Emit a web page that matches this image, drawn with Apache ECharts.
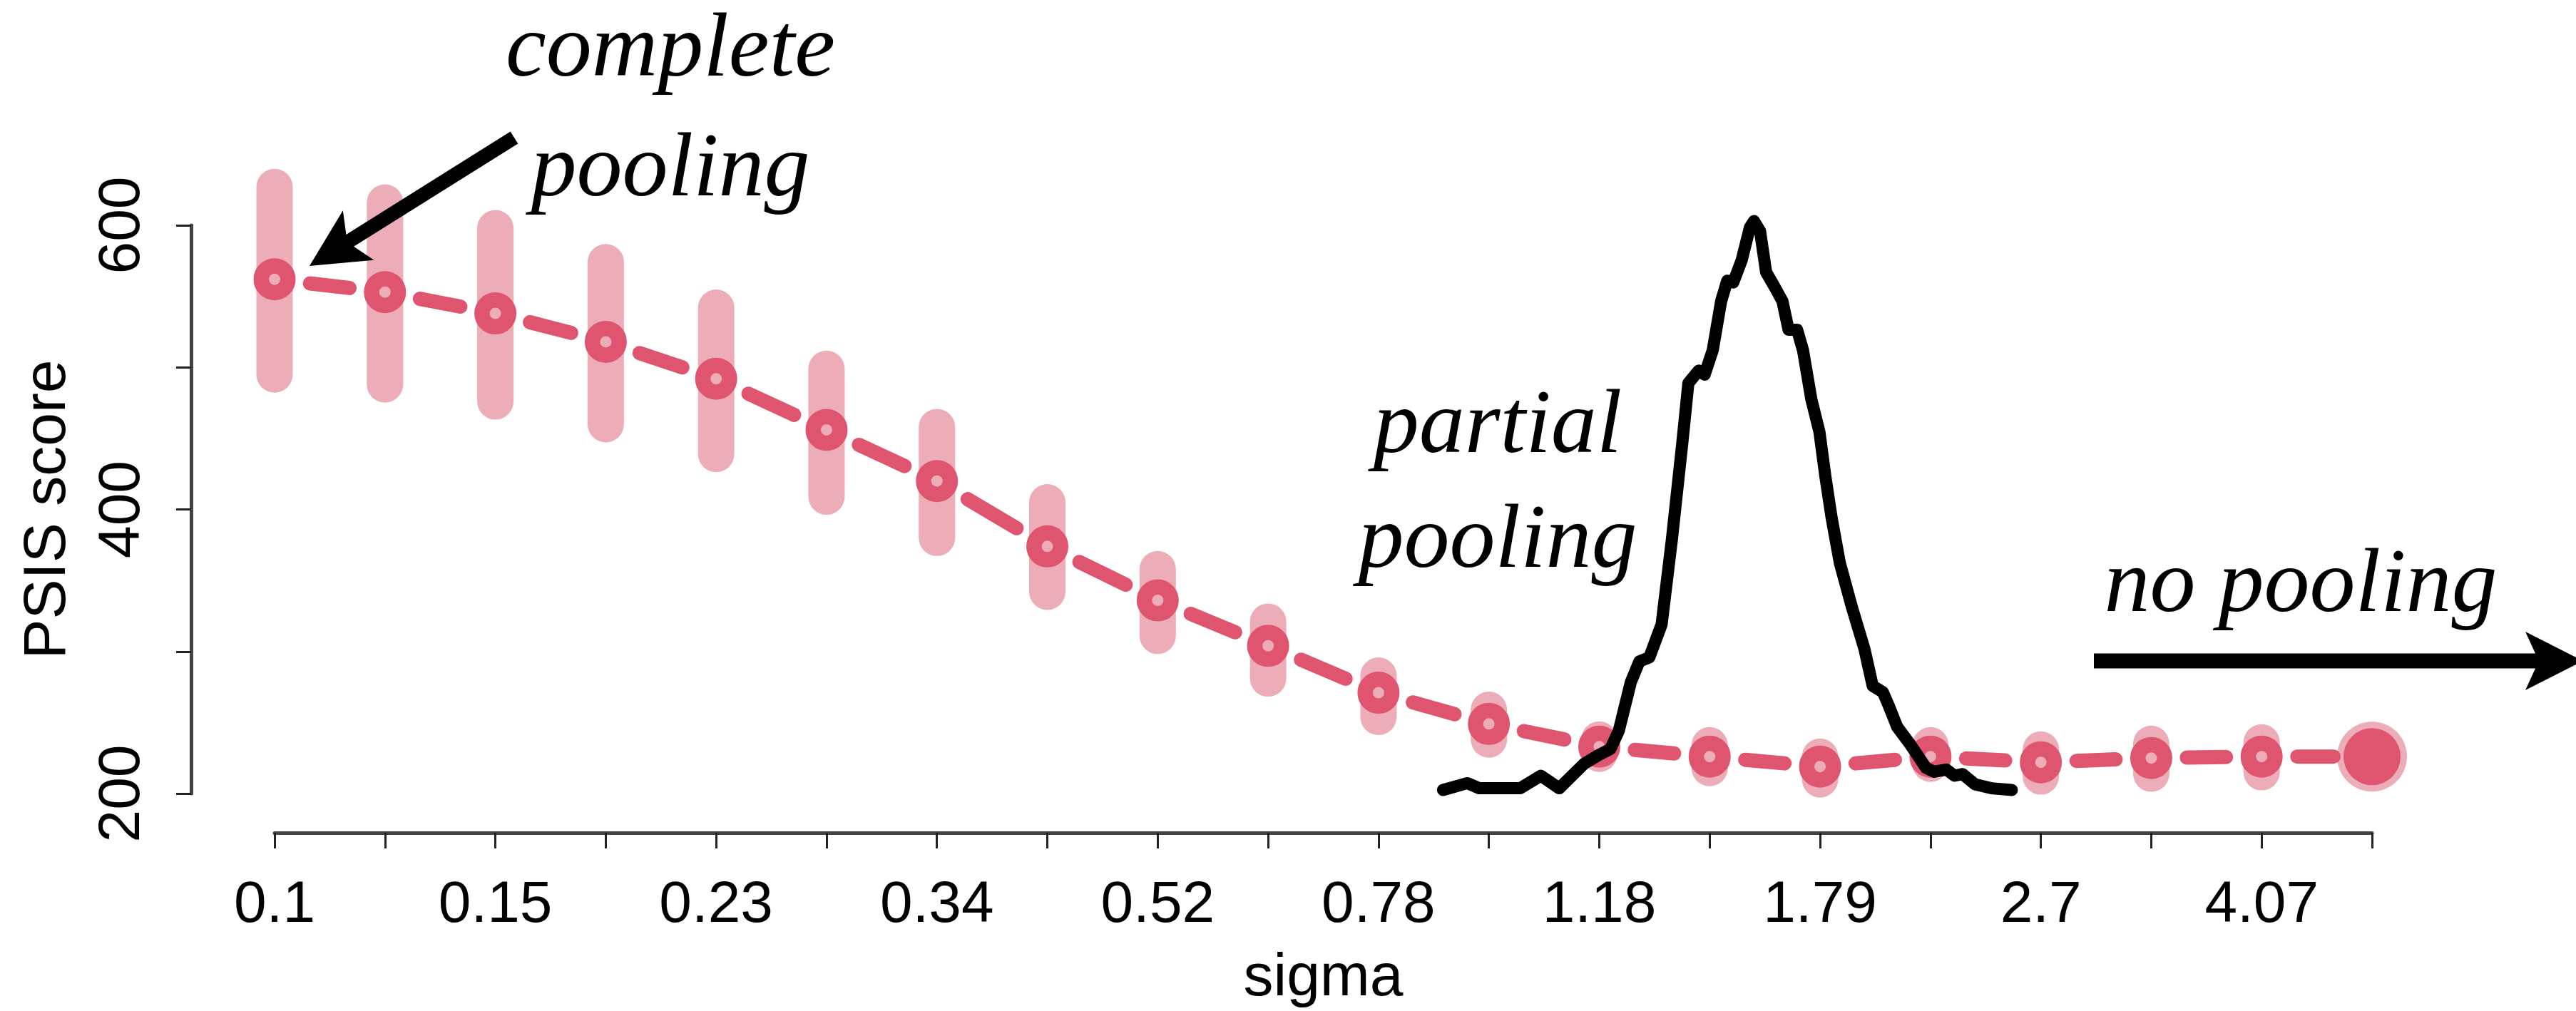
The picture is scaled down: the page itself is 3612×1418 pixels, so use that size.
<!DOCTYPE html>
<html>
<head>
<meta charset="utf-8">
<script src="https://cdn.jsdelivr.net/npm/echarts@6/dist/echarts.min.js"></script>
<style>
  html, body { margin: 0; padding: 0; background: #ffffff; }
  #chart { width: 3612px; height: 1418px; }
</style>
</head>
<body>
<div id="chart"></div>
<script>
// ---------- data ----------
const sigmaLabels = ['0.1','0.12','0.15','0.19','0.23','0.28','0.34','0.42','0.52','0.64',
                     '0.78','0.96','1.18','1.45','1.79','2.2','2.7','3.31','4.07','5'];
const psisScore = [562, 553, 538, 518, 492, 456, 420, 374, 336, 304,
                   271, 249, 233, 226, 219, 226, 222, 225, 226, 226];
const psisLower = [495, 488, 476, 460, 439, 409, 380, 342, 311, 281,
                   254, 238, 228, 218, 210, 221, 212, 214, 215, 221];
const psisUpper = [627, 616, 598, 574, 542, 499, 458, 405, 358, 321,
                   283, 259, 238, 234, 226, 234, 231, 235, 236, 231];
const yTicks = [200, 300, 400, 500, 600];
const yTickLabels = ['200', '400', '600'];

// posterior density of sigma (relative height, peak = 1)
const densitySigma = [0.884,0.925,0.946,1.021,1.061,1.098,1.150,1.181,1.208,1.227,
                      1.255,1.275,1.299,1.329,1.355,1.381,1.397,1.424,1.440,1.462,
                      1.485,1.502,1.519,1.543,1.567,1.579,1.597,1.615,1.640,1.665,
                      1.684,1.711,1.730,1.757,1.784,1.804,1.825,1.853,1.896,1.940,
                      1.970,2.008,2.031,2.062,2.110,2.142,2.176,2.209,2.260,2.295,
                      2.330,2.384,2.458,2.554];
const densityValue = [0.000,0.012,0.003,0.003,0.025,0.003,0.046,0.061,0.072,0.104,
                      0.190,0.226,0.233,0.291,0.442,0.608,0.715,0.737,0.730,0.773,
                      0.859,0.895,0.892,0.931,0.989,1.000,0.982,0.910,0.885,0.859,
                      0.809,0.809,0.773,0.687,0.629,0.550,0.478,0.399,0.320,0.248,
                      0.183,0.172,0.147,0.111,0.082,0.061,0.039,0.032,0.036,0.025,
                      0.028,0.010,0.003,0.000];

// ---------- styling ----------
const RING = '#DF5570';
const BAR = '#EDADB8';
const AXIS_FONT = 'Liberation Sans';
const ANNOT_FONT = 'Liberation Serif';
const last = psisScore.length - 1;

const chart = echarts.init(document.getElementById('chart'), null, { renderer: 'canvas' });

const barData = psisLower.map((lo, i) => [i, lo, psisUpper[i], psisScore[i]]);
const segData = psisScore.slice(0, -1).map((v, i) => [i, v, psisScore[i + 1]]);
const ringData = psisScore.map((v, i) => i === last
  ? { value: [i, v], symbolSize: 80, itemStyle: { color: RING, borderWidth: 0 } }
  : [i, v]);
const densityData = densitySigma.map((s, i) => [Math.log(s), densityValue[i]]);

function arrowPoly(x1, y1, x2, y2, shaftW, headLen, headHalf, notchLen) {
  const dx = x2 - x1, dy = y2 - y1, L = Math.hypot(dx, dy);
  const ux = dx / L, uy = dy / L, nx = -uy, ny = ux;
  const nX = x2 - ux * notchLen, nY = y2 - uy * notchLen;
  const bX = x2 - ux * headLen, bY = y2 - uy * headLen;
  const h = shaftW / 2;
  return [
    [x1 + nx * h, y1 + ny * h],
    [nX + nx * h, nY + ny * h],
    [bX + nx * headHalf, bY + ny * headHalf],
    [x2, y2],
    [bX - nx * headHalf, bY - ny * headHalf],
    [nX - nx * h, nY - ny * h],
    [x1 - nx * h, y1 - ny * h]
  ];
}

function annot(text, x, y) {
  return {
    type: 'text', x: x, y: y, z: 100,
    style: {
      text: text, fill: '#000', fontFamily: ANNOT_FONT, fontStyle: 'italic',
      fontSize: 128, align: 'center', verticalAlign: 'middle'
    }
  };
}

const option = {
  backgroundColor: '#ffffff',
  animation: false,
  grid: { left: 385, right: 286, top: 316, bottom: 305, outerBoundsMode: 'none', containLabel: false },
  xAxis: [{
    type: 'category',
    data: sigmaLabels,
    boundaryGap: false,
    offset: 55,
    name: 'sigma',
    nameLocation: 'middle',
    nameGap: 163,
    nameTextStyle: { fontFamily: AXIS_FONT, fontSize: 84, color: '#000' },
    axisLine: { onZero: false, lineStyle: { color: '#444', width: 5 } },
    axisTick: { interval: 0, length: 22, lineStyle: { color: '#222', width: 3 } },
    axisLabel: { interval: 1, margin: 61, fontFamily: AXIS_FONT, fontSize: 82, color: '#000' },
    splitLine: { show: false }
  }, {
    type: 'value', show: false,
    min: Math.log(0.1), max: Math.log(5),
    axisLine: { onZero: false }
  }],
  yAxis: [{
    type: 'value',
    min: yTicks[0], max: yTicks[yTicks.length - 1], interval: 100,
    offset: 117,
    name: 'PSIS score',
    nameLocation: 'middle',
    nameGap: 158,
    nameTextStyle: { fontFamily: AXIS_FONT, fontSize: 84, color: '#000' },
    axisLine: { show: true, onZero: false, lineStyle: { color: '#444', width: 5 } },
    axisTick: { show: true, length: 21, lineStyle: { color: '#222', width: 3 } },
    axisLabel: {
      rotate: 90, margin: 55, fontFamily: AXIS_FONT, fontSize: 82, color: '#000',
      formatter: v => yTickLabels.indexOf(String(v)) >= 0 ? String(v) : ''
    },
    splitLine: { show: false }
  }, {
    type: 'value', show: false,
    min: -0.006266, max: 0.99248,
    axisLine: { onZero: false }
  }],
  series: [
    {
      name: 'interval', type: 'custom', clip: false, z: 1,
      xAxisIndex: 0, yAxisIndex: 0,
      data: barData,
      encode: { x: 0, y: [1, 2] },
      renderItem: function (params, api) {
        const i = api.value(0);
        if (i === last) {
          const c = api.coord([i, api.value(3)]);
          return { type: 'circle', shape: { cx: c[0], cy: c[1], r: 49 }, style: { fill: BAR } };
        }
        const lo = api.coord([i, api.value(1)]);
        const hi = api.coord([i, api.value(2)]);
        return {
          type: 'line',
          shape: { x1: hi[0], y1: hi[1], x2: lo[0], y2: lo[1] },
          style: { stroke: BAR, lineWidth: 51, lineCap: 'round' }
        };
      }
    },
    {
      name: 'segments', type: 'custom', clip: false, z: 2,
      xAxisIndex: 0, yAxisIndex: 0,
      data: segData,
      encode: { x: 0, y: [1, 2] },
      renderItem: function (params, api) {
        const i = api.value(0);
        const p = api.coord([i, api.value(1)]);
        const q = api.coord([i + 1, api.value(2)]);
        const dx = q[0] - p[0], dy = q[1] - p[1], L = Math.hypot(dx, dy);
        const ux = dx / L, uy = dy / L;
        const t1 = 50, t2 = (i + 1 === last) ? 54 : 50;
        return {
          type: 'line',
          shape: { x1: p[0] + ux * t1, y1: p[1] + uy * t1, x2: q[0] - ux * t2, y2: q[1] - uy * t2 },
          style: { stroke: RING, lineWidth: 20, lineCap: 'round' }
        };
      }
    },
    {
      name: 'PSIS', type: 'scatter', clip: false, z: 3,
      xAxisIndex: 0, yAxisIndex: 0,
      data: ringData,
      symbol: 'circle',
      symbolSize: 37.5,
      itemStyle: { color: 'rgba(0,0,0,0)', borderColor: RING, borderWidth: 21.5, opacity: 1 },
      emphasis: { disabled: true }
    },
    {
      name: 'density', type: 'line', clip: false, z: 4,
      xAxisIndex: 1, yAxisIndex: 1,
      data: densityData,
      symbol: 'none',
      lineStyle: { color: '#000', width: 17, cap: 'round', join: 'round' },
      emphasis: { disabled: true }
    }
  ],
  graphic: [
    annot('complete', 940, 72),
    annot('pooling', 940, 240),
    annot('partial', 2100, 600),
    annot('pooling', 2100, 761),
    annot('no pooling', 3226, 823),
    { type: 'polygon', z: 100, shape: { points: arrowPoly(721, 193, 434, 373, 20, 81, 41, 67) }, style: { fill: '#000' } },
    { type: 'polygon', z: 100, shape: { points: arrowPoly(2936, 927, 3622, 927, 21, 81, 41, 67) }, style: { fill: '#000' } }
  ]
};

chart.setOption(option);
</script>
</body>
</html>
